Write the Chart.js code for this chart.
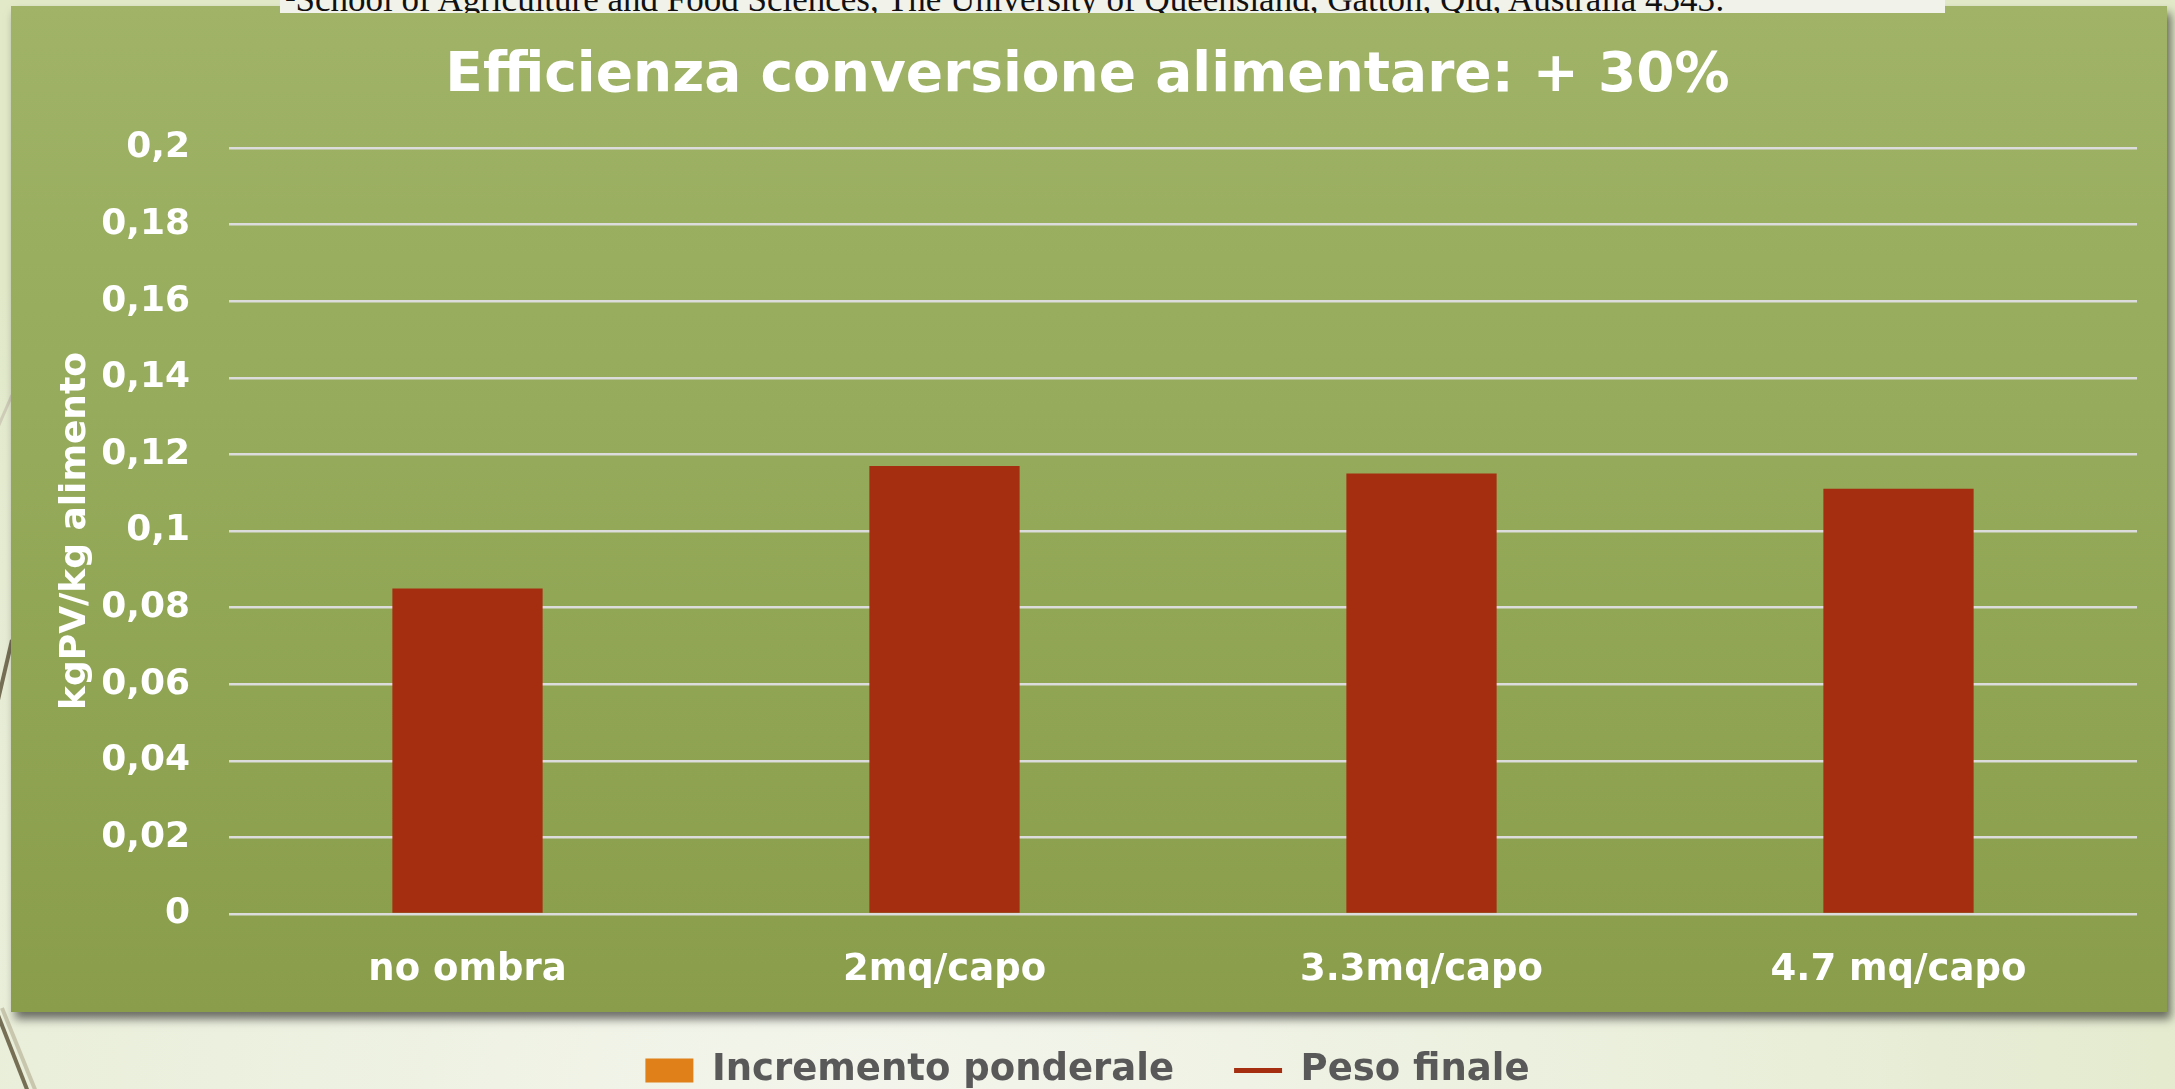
<!DOCTYPE html>
<html>
<head>
<meta charset="utf-8">
<script src="https://cdn.jsdelivr.net/npm/chart.js@4.4.1/dist/chart.umd.min.js"></script>
<style>
  html, body { margin: 0; padding: 0; overflow: hidden; }
  body {
    width: 2175px; height: 1089px; position: relative;
    background: radial-gradient(ellipse 70% 90% at 40% 100%, #f3f5ec 0%, #eaefdb 55%, #e1e9c9 100%);
    font-family: 'DejaVu Sans', sans-serif;
  }
  .deco { position: absolute; left: 0; top: 0; }
  .panel {
    position: absolute; left: 11px; top: 6px; width: 2156px; height: 1006px;
    background: linear-gradient(to bottom, #a0b367 0%, #95aa5a 45%, #899d4a 100%);
    box-shadow: 4px 7px 9px rgba(0, 0, 0, 0.55);
  }
  .source {
    position: absolute; left: 280px; top: 0; width: 1665px; height: 13px;
    overflow: hidden; background: #f1f3ea;
  }
  .source p {
    position: absolute; left: 5px; top: -20px; margin: 0;
    font-family: 'Liberation Serif', serif; font-size: 35px; color: #111;
    white-space: nowrap;
  }
  #chart { position: absolute; left: 0; top: 0; width: 2175px; height: 1099px; }
</style>
</head>
<body>
<svg class="deco" width="2175" height="1089">
  <line x1="12" y1="395" x2="-2" y2="427" stroke="#cfcdb8" stroke-width="3"/>
  <line x1="12" y1="640" x2="-2" y2="700" stroke="#766f55" stroke-width="4"/>
  <line x1="2" y1="1008" x2="36" y2="1092" stroke="#c9c6ae" stroke-width="4"/>
  <line x1="-4" y1="1010" x2="28" y2="1092" stroke="#766f55" stroke-width="4"/>
</svg>
<div class="panel"></div>
<div class="source"><p>²School of Agriculture and Food Sciences, The University of Queensland, Gatton, Qld, Australia 4343:</p></div>
<canvas id="chart" width="2175" height="1099"></canvas>
<script>
const CATEGORIES = ['no ombra', '2mq/capo', '3.3mq/capo', '4.7 mq/capo'];
// Orange series shows up only in the legend; no visible bars.
const INCREMENTO = [null, null, null, null];
const PESO_FINALE = [0.085, 0.117, 0.115, 0.111];
const Y_TICKS = ['0', '0,02', '0,04', '0,06', '0,08', '0,1', '0,12', '0,14', '0,16', '0,18', '0,2'];

const ORANGE = '#e08019';
const RED = '#a52e10';
const LEGEND_GREY = '#595959';
const FONT = 'DejaVu Sans';

const fixWidth = (w) => (scale) => { scale.width = w; };
const fixHeight = (h) => (scale) => { scale.height = h; };

new Chart(document.getElementById('chart'), {
  type: 'bar',
  data: {
    labels: CATEGORIES,
    datasets: [
      {
        label: 'Incremento ponderale',
        data: INCREMENTO,
        backgroundColor: ORANGE,
        borderColor: ORANGE,
        borderWidth: 0,
        pointStyle: 'rect',
        grouped: false,
      },
      {
        label: 'Peso finale',
        data: PESO_FINALE,
        backgroundColor: RED,
        borderColor: RED,
        borderWidth: 0,
        pointStyle: 'line',
        grouped: false,
      },
    ],
  },
  options: {
    responsive: false,
    animation: false,
    devicePixelRatio: 1,
    layout: { padding: 0 },
    datasets: { bar: { categoryPercentage: 1, barPercentage: 0.315 } },
    plugins: {
      title: {
        display: true,
        text: 'Efficienza conversione alimentare: + 30%',
        color: '#ffffff',
        font: { family: FONT, size: 55, weight: 'bold', lineHeight: 1.2 },
        padding: { top: 44, bottom: 38 },
      },
      legend: {
        position: 'bottom',
        labels: {
          color: LEGEND_GREY,
          font: { family: FONT, size: 37, weight: 'bold' },
          usePointStyle: true,
          pointStyleWidth: 48,
          boxHeight: 24,
          padding: 60,
          generateLabels: (chart) => chart.data.datasets.map((ds, i) => ({
            text: ds.label,
            fillStyle: ds.backgroundColor,
            strokeStyle: ds.borderColor,
            fontColor: LEGEND_GREY,
            lineWidth: ds.pointStyle === 'line' ? 5 : 0,
            pointStyle: ds.pointStyle,
            datasetIndex: i,
            hidden: false,
          })),
        },
      },
      tooltip: { enabled: false },
    },
    scales: {
      x: {
        afterFit: fixHeight(78),
        grid: { display: false, drawTicks: false },
        border: { display: false },
        ticks: {
          color: '#ffffff',
          padding: 34,
          font: { family: FONT, size: 37, weight: 'bold', lineHeight: 1.2 },
        },
      },
      y: {
        min: 0,
        max: 0.2,
        afterFit: fixWidth(229),
        grid: { color: '#dcdcdc', lineWidth: 2.5, drawTicks: false },
        border: { display: false },
        ticks: {
          stepSize: 0.02,
          padding: 39,
          color: '#ffffff',
          font: { family: FONT, size: 36, weight: 'bold' },
          callback: (v, i) => Y_TICKS[i],
        },
        title: {
          display: true,
          text: 'kgPV/kg alimento',
          color: '#ffffff',
          font: { family: FONT, size: 36, weight: 'bold', lineHeight: 1.2 },
          padding: { top: 54, bottom: 0 },
        },
      },
      // empty right-hand gutter so title and legend centre on the whole page
      gutter: {
        position: 'right',
        afterFit: fixWidth(38),
        grid: { display: false, drawTicks: false },
        border: { display: false },
        ticks: { display: false },
      },
    },
  },
});
</script>
</body>
</html>
